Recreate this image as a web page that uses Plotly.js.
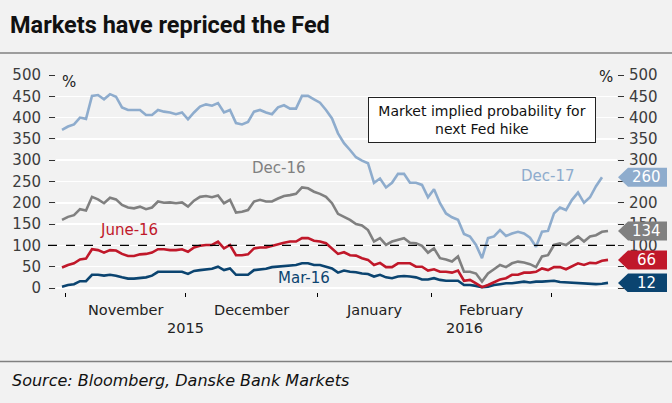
<!DOCTYPE html>
<html><head><meta charset="utf-8">
<script src="https://cdn.plot.ly/plotly-3.0.1.min.js"></script>
<style>html,body{margin:0;padding:0;background:#f2f2f2;}#chart{width:672px;height:403px;}</style>
</head><body><div id="chart"></div>
<script>
// Business-day index (holidays excluded), Oct 30 2015 .. Mar 14 2016
const dec17 = [371,379,384,400,397,451,453,443,455,449,424,418,418,418,406,406,418,414,412,408,412,396,412,
  426,431,428,434,412,418,387,384,390,414,418,412,408,424,429,421,421,451,451,443,435,418,398,
  363,340,324,307,299,293,247,257,236,247,268,268,247,247,242,213,232,199,175,166,160,127,121,
  101,70,117,121,136,122,128,132,128,118,97,132,134,175,189,183,207,224,200,213,239,260,null];
const dec16 = [160,167,171,185,182,214,208,199,212,208,195,189,187,191,185,189,203,200,201,199,201,191,205,
  214,216,213,217,199,207,177,179,183,203,207,203,203,210,216,218,221,236,234,226,221,214,199,
  174,167,160,150,147,136,109,117,101,109,113,117,106,105,99,83,93,70,67,62,74,38,38,
  34,15,34,44,54,49,58,62,60,56,49,74,77,101,105,101,111,121,109,121,124,132,134];
const jun16 = [48,54,58,67,69,91,89,83,89,88,80,75,75,79,80,83,91,91,89,89,91,85,95,
  99,101,101,109,93,101,77,77,79,93,95,95,99,103,106,109,109,117,117,111,109,105,92,
  80,84,77,76,70,66,54,59,49,49,58,58,58,50,50,41,44,38,38,36,41,17,19,
  11,2,7,13,20,23,31,31,36,36,38,46,42,49,49,44,52,58,54,59,58,64,66];
const mar16 = [3,7,9,16,16,31,31,29,31,29,25,22,22,24,25,29,38,38,38,38,38,33,40,
  42,44,45,50,42,46,31,31,31,42,44,45,49,50,52,52,54,58,58,54,54,50,46,
  36,41,38,37,34,33,27,31,25,23,27,28,27,25,20,20,23,19,17,17,17,7,7,
  5,2,3,7,9,11,11,13,15,13,15,15,16,17,14,13,13,11,11,9,9,10,12];

const seriesNames = ['Dec-17','Dec-16','June-16','Mar-16'];
const seriesColors = ['#8eaccd','#808080','#c0182a','#0b4470'];
const monthLabels = ['November','December','January','February'];
const monthBounds = [0.5,20.5,42.5,61.5,81.5];
const yearLabels = ['2015','2016'];
const yearPos = [20.5,67];
const yTicks = [0,50,100,150,200,250,300,350,400,450,500];
const yTicksRightHidden = [0,50,250]; // covered by the value tags
const threshold = 100;

const W=672,H=403,L=56,R=617,T=75,B=292;
const yMin = -(B-288)*500/(288-T);
const px = p => (p-L)/(R-L);
const py = p => (B-p)/(B-T);
const idx = dec16.map((_,i)=>i);
const FONT = 'DejaVu Sans';

const allSeries = [dec17,dec16,jun16,mar16];
const order = [0,1,3,2];
const traces = order.map(k => ({
  x: idx, y: allSeries[k], type:'scatter', mode:'lines', name: seriesNames[k],
  line:{color:seriesColors[k], width:2.6}, hoverinfo:'skip', connectgaps:false
}));
traces.push({x:[0],y:[0],yaxis:'y2',mode:'markers',marker:{opacity:0},hoverinfo:'skip',showlegend:false});

const lastVal = s => { for (let i=s.length-1;i>=0;i--) if (s[i]!==null) return s[i]; };
const halfH = 9.5*500/(288-T);

const shapes = [
  {type:'line',xref:'paper',yref:'paper',x0:px(0),x1:px(672),y0:py(53),y1:py(53),line:{color:'#808080',width:1.5}},
  {type:'line',xref:'paper',yref:'paper',x0:px(0),x1:px(672),y0:py(361.5),y1:py(361.5),line:{color:'#808080',width:1.5}},
  {type:'line',xref:'paper',yref:'y',x0:px(48),x1:px(623),y0:threshold,y1:threshold,line:{color:'#000',width:1.2,dash:'dash'},layer:'above'}
];
const annotations = [];
allSeries.forEach((s,k)=>{
  const v = lastVal(s);
  const xt=px(618), xb=px(628), xr=px(667);
  shapes.push({type:'path',xref:'paper',yref:'y',layer:'above',
    path:`M ${xt},${v} L ${xb},${v+halfH} L ${xr},${v+halfH} L ${xr},${v-halfH} L ${xb},${v-halfH} Z`,
    fillcolor:seriesColors[k],line:{width:0}});
  annotations.push({xref:'paper',yref:'y',x:px(646),y:v,text:String(v),showarrow:false,
    xanchor:'center',yanchor:'middle',font:{family:FONT,size:15,color:'#fff'}});
});
// series labels
const labelPos = [[81,263],[36.2,282],[11.2,136],[40.4,23.5]];
seriesNames.forEach((n,k)=>{
  annotations.push({xref:'x',yref:'y',x:labelPos[k][0],y:labelPos[k][1],text:n,showarrow:false,
    xanchor:'center',yanchor:'middle',font:{family:FONT,size:15,color:seriesColors[k]}});
});
monthLabels.forEach((m,i)=>{
  annotations.push({xref:'x',yref:'paper',x:(monthBounds[i]+monthBounds[i+1])/2,y:py(310),text:m,showarrow:false,
    xanchor:'center',yanchor:'middle',font:{family:FONT,size:14.5,color:'#222'}});
});
yearLabels.forEach((t,i)=>{
  annotations.push({xref:'x',yref:'paper',x:yearPos[i],y:py(328),text:t,showarrow:false,
    xanchor:'center',yanchor:'middle',font:{family:FONT,size:14.5,color:'#222'}});
});
annotations.push({xref:'paper',yref:'paper',x:px(69),y:py(82),text:'%',showarrow:false,xanchor:'center',yanchor:'middle',font:{family:FONT,size:15,color:'#222'}});
annotations.push({xref:'paper',yref:'paper',x:px(606),y:py(77),text:'%',showarrow:false,xanchor:'center',yanchor:'middle',font:{family:FONT,size:15,color:'#222'}});
annotations.push({xref:'paper',yref:'paper',x:px(482),y:py(120),xanchor:'center',yanchor:'middle',
  text:'Market implied probability for<br>next Fed hike',
  showarrow:false,align:'center',bgcolor:'#ffffff',bordercolor:'#222',borderwidth:1,borderpad:1,width:224,height:42,
  font:{family:FONT,size:14,color:'#111'}});
annotations.push({xref:'paper',yref:'paper',x:px(10),y:py(380),xanchor:'left',yanchor:'middle',
  text:'<i>Source: Bloomberg, Danske Bank Markets</i>',showarrow:false,font:{family:FONT,size:16,color:'#111'}});

const tickFont = {family:FONT,size:15,color:'#3c3c3c'};
const layout = {
  width:W,height:H,margin:{l:L,r:W-R,t:T,b:H-B,pad:0},
  paper_bgcolor:'#f2f2f2',plot_bgcolor:'#f2f2f2',showlegend:false,
  title:{text:'<b>Markets have repriced the Fed</b>',xref:'container',yref:'container',x:10/W,xanchor:'left',
    y:1-25/H,yanchor:'middle',font:{family:'Roboto',size:23.5,color:'#111'}},
  xaxis:{range:[-1,92.5],tickvals:monthBounds,ticktext:monthBounds.map(()=>''),ticks:'outside',ticklen:4,
    tickcolor:'#000',tickwidth:1,showgrid:false,zeroline:false,showline:false,fixedrange:true},
  yaxis:{range:[yMin,500],tickvals:yTicks,ticks:'outside',ticklen:6,tickcolor:'#333',tickwidth:1,
    gridcolor:'#ffffff',gridwidth:1.5,zeroline:false,showline:false,tickfont:tickFont,ticklabelstandoff:5,fixedrange:true},
  yaxis2:{overlaying:'y',side:'right',range:[yMin,500],tickvals:yTicks,
    ticktext:yTicks.map(v=>yTicksRightHidden.includes(v)?'':String(v)),ticks:'outside',ticklen:6,tickcolor:'#333',
    tickwidth:1,showgrid:false,zeroline:false,showline:false,tickfont:tickFont,ticklabelstandoff:2,fixedrange:true},
  shapes:shapes,annotations:annotations
};
Plotly.newPlot('chart',traces,layout,{displayModeBar:false,staticPlot:true});
</script></body></html>
